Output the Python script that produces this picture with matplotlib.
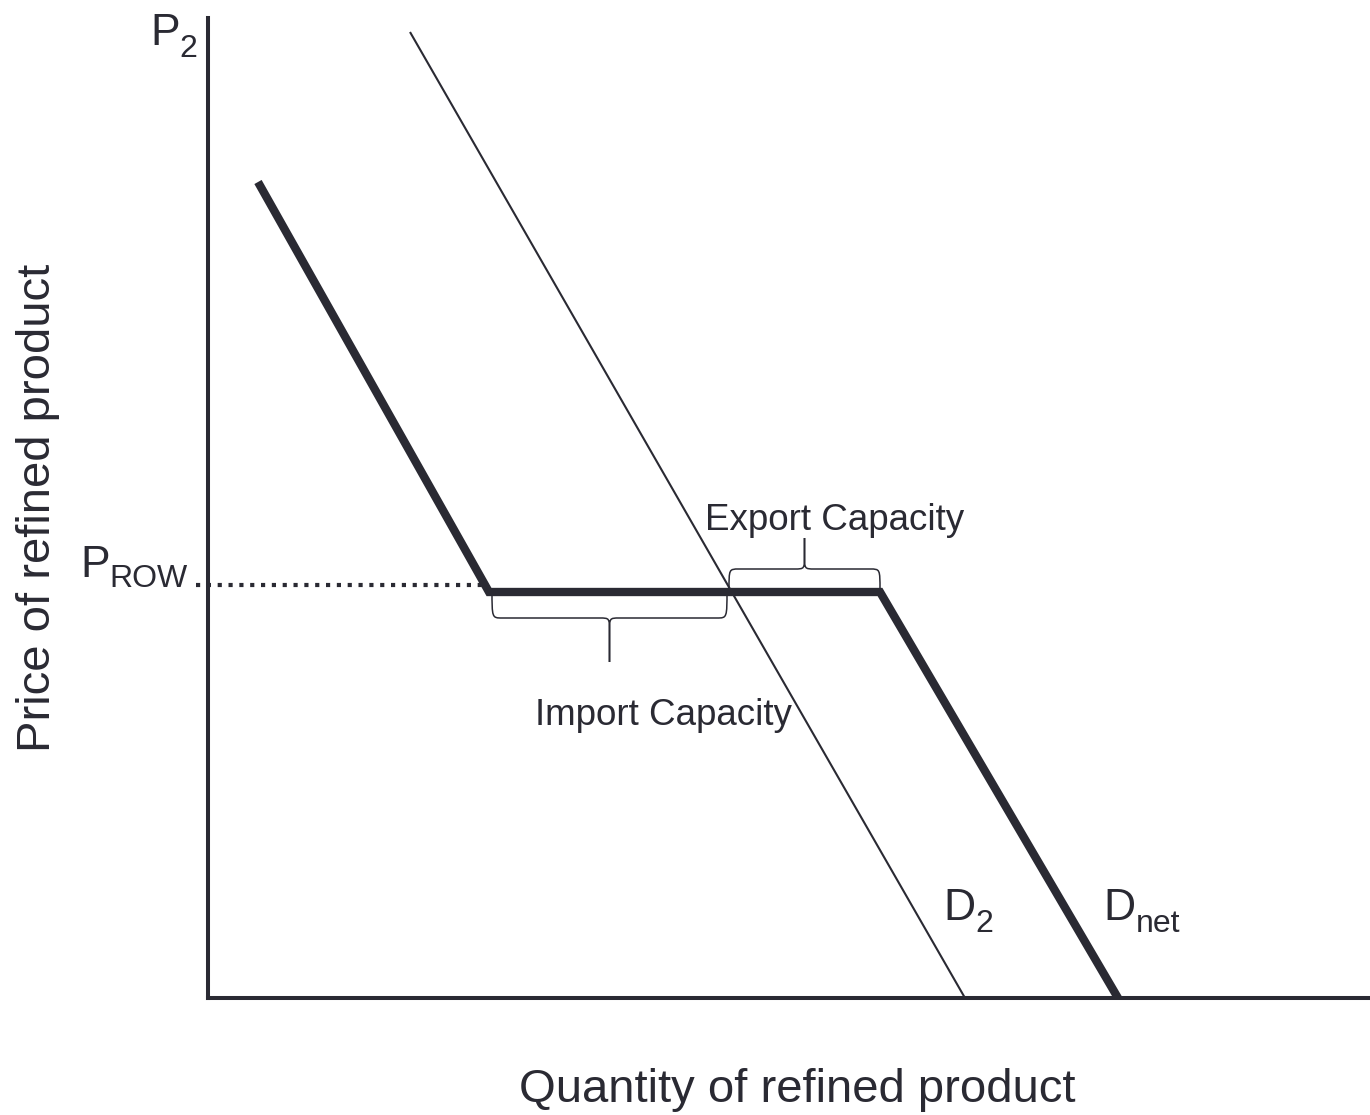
import numpy as np
import matplotlib
matplotlib.use('Agg')
import matplotlib.pyplot as plt
from matplotlib.path import Path
from matplotlib.patches import PathPatch

plt.rcParams['font.family'] = ['Liberation Sans', 'DejaVu Sans']

INK = '#2a2a33'

# quantity / price units (axes: 0..116.2 x 0..98)
d2_q = [20.2, 75.7]
d2_p = [96.6, 0.0]

dnet_q = [5.0, 28.1, 67.2, 91.0]
dnet_p = [81.6, 40.6, 40.6, 0.0]

p_row = 41.3
p_row_q = [-1.2, 28.0]

# brace ranges: (q start, q end, base p, flat p, tip p)
import_brace = (28.4, 51.9, 40.8, 38.0, 33.6)
export_brace = (52.1, 67.2, 40.8, 42.9, 46.0)


def brace_path(q0, q1, pb, pf, pt, r=1.0):
    qm = (q0 + q1) / 2.0
    s = np.sign(pt - pf)
    k = 1.4 * r
    verts = [(q0, pb), (q0, pf), (q0, pf), (q0 + r, pf),
             (qm - r, pf), (qm, pf), (qm, pf), (qm, pf + s * k),
             (qm, pt),
             (qm, pt), (qm, pf + s * k),
             (qm, pf), (qm, pf), (qm + r, pf),
             (q1 - r, pf), (q1, pf), (q1, pf), (q1, pb)]
    codes = [Path.MOVETO, Path.CURVE4, Path.CURVE4, Path.CURVE4,
             Path.LINETO, Path.CURVE4, Path.CURVE4, Path.CURVE4,
             Path.LINETO,
             Path.MOVETO, Path.LINETO,
             Path.CURVE4, Path.CURVE4, Path.CURVE4,
             Path.LINETO, Path.CURVE4, Path.CURVE4, Path.CURVE4]
    return Path(verts, codes)


W, H = 1370, 1115
fig = plt.figure(figsize=(W / 100, H / 100), dpi=100)
ax = fig.add_axes([208 / W, (H - 998) / H, (W - 208) / W, 980 / H])
ax.set_xlim(0, 116.2)
ax.set_ylim(0, 98)
for side in ['top', 'right']:
    ax.spines[side].set_visible(False)
for side in ['left', 'bottom']:
    ax.spines[side].set_linewidth(2.9)
    ax.spines[side].set_color(INK)
ax.set_xticks([])
ax.set_yticks([])

ax.plot(d2_q, d2_p, color=INK, lw=1.5, solid_capstyle='butt')
ax.plot(dnet_q, dnet_p, color=INK, lw=6, solid_capstyle='butt',
        solid_joinstyle='miter')
ax.plot(p_row_q, [p_row, p_row], color=INK, lw=3.0, linestyle=(0, (1, 1.6)),
        dash_capstyle='butt', clip_on=False)

for b in [import_brace, export_brace]:
    ax.add_patch(PathPatch(brace_path(*b), fill=False, edgecolor=INK, lw=1.1))

main = 32
sub = 23
ax.text(-5.8, 95.3, 'P', fontsize=main, color=INK, va='baseline', ha='left')
ax.text(-2.9, 94.1, '2', fontsize=sub, color=INK, va='baseline', ha='left')
ax.text(-12.8, 42.1, 'P', fontsize=main, color=INK, va='baseline', ha='left')
ax.text(-9.9, 41.1, 'ROW', fontsize=sub, color=INK, va='baseline', ha='left')
ax.text(73.5, 7.8, 'D', fontsize=main, color=INK, va='baseline', ha='left')
ax.text(76.7, 6.6, '2', fontsize=sub, color=INK, va='baseline', ha='left')
ax.text(89.5, 7.8, 'D', fontsize=main, color=INK, va='baseline', ha='left')
ax.text(92.8, 6.6, 'net', fontsize=sub, color=INK, va='baseline', ha='left')

ax.text(49.7, 46.8, 'Export Capacity', fontsize=26.5, color=INK,
        va='baseline', ha='left')
ax.text(32.7, 27.3, 'Import Capacity', fontsize=26.5, color=INK,
        va='baseline', ha='left')

fig.text(38 / W, 1 - 508 / H, 'Price of refined product', fontsize=34,
         color=INK, rotation=90, ha='center', va='center')
fig.text(797 / W, 1 - 1090 / H, 'Quantity of refined product', fontsize=34,
         color=INK, ha='center', va='center')

fig.savefig('out.png', dpi=100)
